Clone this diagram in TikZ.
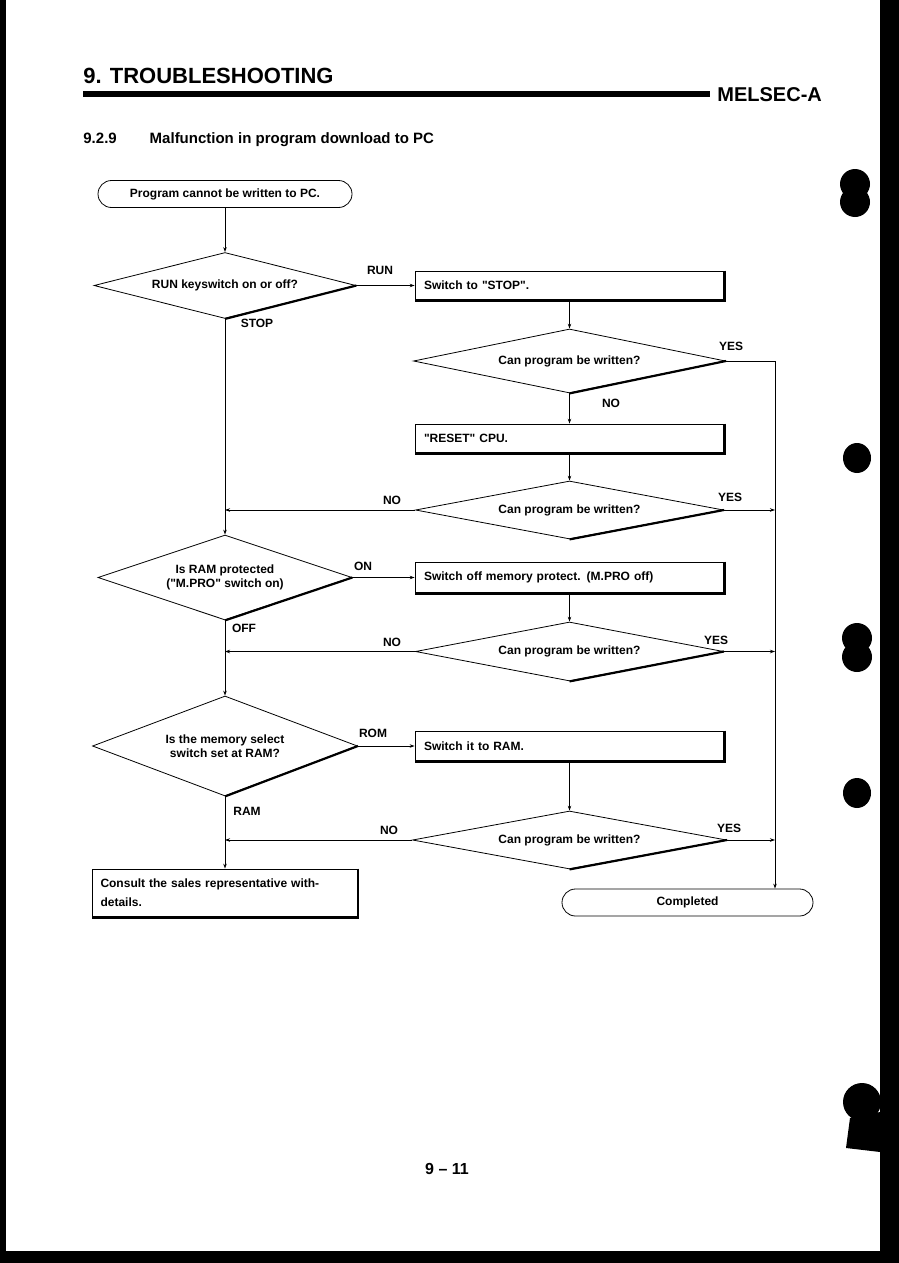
\documentclass[tikz,border=0pt]{standalone}
\usepackage{fontspec}
\setmainfont{Liberation Sans}
\usetikzlibrary{shapes.geometric,arrows.meta}
\begin{document}
\begin{tikzpicture}[x=1pt,y=-1pt,
  font=\bfseries\fontsize{12}{14}\selectfont,
  line width=0.8pt,
  ar/.style={-{Stealth[length=5pt,width=3.5pt]}},
  term/.style={draw,rounded corners=13.5pt,minimum height=27pt,inner sep=0pt},
  proc/.style={draw,minimum width=309pt,minimum height=29pt,text width=291pt,inner xsep=9pt,align=left},
  ask/.style={draw,diamond,aspect=4,inner sep=0pt,align=center},
  shd/.style={line width=2.2pt},
  lbl/.style={inner sep=1pt}]
\useasboundingbox (0,0) rectangle (899,1263);
\fill[white] (0,0) rectangle (899,1263);
\fill (0,0) rectangle (6,1263);
\fill (0,1251) rectangle (899,1263);
\fill (880,0) rectangle (899,1263);
\fill (855,184) circle (15pt);
\fill (855,202) circle (15pt);
\fill (857,458) ellipse (14pt and 15pt);
\fill (857,638) circle (15pt);
\fill (857,657) circle (15pt);
\fill (857,793) ellipse (14pt and 15pt);
\fill (862,1102) circle (19pt);
\fill (850,1118) -- (880,1112) -- (880,1152) -- (846,1148) -- cycle;

\node[anchor=base west,inner sep=0pt,font=\bfseries\fontsize{22}{24}\selectfont] (title) at (83,83) {9. TROUBLESHOOTING};
\fill (83,91) rectangle (710,97);
\node[anchor=base west,inner sep=0pt,font=\bfseries\fontsize{20}{22}\selectfont] (brand) at (717,101) {MELSEC-A};
\node[anchor=base west,inner sep=0pt,font=\bfseries\fontsize{15}{17}\selectfont] (sec) at (83,143) {9.2.9\hspace{2.2em}Malfunction in program download to PC};

\node[term,minimum width=254pt] (start) at (225,194) {Program cannot be written to PC.};
\node[ask,minimum width=262pt,minimum height=66pt] (q1) at (225,285.5) {RUN keyswitch on or off?};
\node[proc] (stop) at (569.5,285.5) {Switch to \textquotedbl STOP\textquotedbl.};
\node[ask,minimum width=312pt,minimum height=64pt] (q2) at (569.5,361) {Can program be written?};
\node[proc] (reset) at (569.5,438.5) {\textquotedbl RESET\textquotedbl{} CPU.};
\node[ask,minimum width=308pt,minimum height=58pt] (q3) at (569.5,510) {Can program be written?};
\node[ask,aspect=3,minimum width=254pt,minimum height=85pt] (q4) at (225,577.5) {Is RAM protected\\(\textquotedbl M.PRO\textquotedbl{} switch on)};
\node[proc,minimum height=31pt] (mpro) at (569.5,577.5) {Switch off memory protect. (M.PRO off)};
\node[ask,minimum width=308pt,minimum height=59pt] (q5) at (569.5,651.5) {Can program be written?};
\node[ask,aspect=2.6,minimum width=265pt,minimum height=100pt] (q6) at (225,746) {Is the memory select\\switch set at RAM?};
\node[proc,minimum height=30pt] (ram) at (569.5,746) {Switch it to RAM.};
\node[ask,minimum width=314pt,minimum height=58pt] (q7) at (569.5,840) {Can program be written?};
\node[draw,minimum width=265pt,minimum height=48pt,text width=249pt,inner xsep=8pt,align=left] (consult) at (225,893) {Consult the sales representative with-\\[5pt]details.};
\node[term,minimum width=251pt] (done) at (687.5,902.5) {Completed};

\draw[shd] (q1.south) -- (q1.east);
\draw[shd] (q2.south) -- (q2.east);
\draw[shd] (q3.south) -- (q3.east);
\draw[shd] (q4.south) -- (q4.east);
\draw[shd] (q5.south) -- (q5.east);
\draw[shd] (q6.south) -- (q6.east);
\draw[shd] (q7.south) -- (q7.east);
\draw[shd] (stop.north east) -- (stop.south east) -- (stop.south west);
\draw[shd] (reset.north east) -- (reset.south east) -- (reset.south west);
\draw[shd] (mpro.north east) -- (mpro.south east) -- (mpro.south west);
\draw[shd] (ram.north east) -- (ram.south east) -- (ram.south west);
\draw[shd] (consult.north east) -- (consult.south east) -- (consult.south west);

\coordinate (rbus) at (775,0);
\draw[ar] (start.south) -- (q1.north);
\draw[ar] (q1.east) -- (stop.west);
\draw[ar] (stop.south) -- (q2.north);
\draw[ar] (q2.south) -- (reset.north);
\draw[ar] (reset.south) -- (q3.north);
\draw[ar] (q1.south) -- (q4.north);
\draw[ar] (q4.east) -- (mpro.west);
\draw[ar] (mpro.south) -- (q5.north);
\draw[ar] (q4.south) -- (q6.north);
\draw[ar] (q6.east) -- (ram.west);
\draw[ar] (ram.south) -- (q7.north);
\draw[ar] (q6.south) -- (consult.north);
\draw[ar] (q2.east) -| (rbus |- done.north);
\draw[ar] (q3.east) -- (q3.east -| rbus);
\draw[ar] (q5.east) -- (q5.east -| rbus);
\draw[ar] (q7.east) -- (q7.east -| rbus);
\draw[ar] (q3.west) -- (q3.west -| q1.south);
\draw[ar] (q5.west) -- (q5.west -| q1.south);
\draw[ar] (q7.west) -- (q7.west -| q1.south);

\node[lbl] (lrun) at (380,270) {RUN};
\node[lbl] (lstop) at (257,323) {STOP};
\node[lbl] (lyes2) at (731,346) {YES};
\node[lbl] (lno2) at (611,403) {NO};
\node[lbl] (lno3) at (392,500) {NO};
\node[lbl] (lyes3) at (730,497) {YES};
\node[lbl] (lon) at (363,566) {ON};
\node[lbl] (loff) at (244,628) {OFF};
\node[lbl] (lno5) at (392,642) {NO};
\node[lbl] (lyes5) at (716,640) {YES};
\node[lbl] (lrom) at (373,733) {ROM};
\node[lbl] (lram) at (247,811) {RAM};
\node[lbl] (lno7) at (389,830) {NO};
\node[lbl] (lyes7) at (729,828) {YES};

\node[font=\bfseries\fontsize{16}{18}\selectfont] (page) at (447,1169) {9 -- 11};
\end{tikzpicture}
\end{document}
